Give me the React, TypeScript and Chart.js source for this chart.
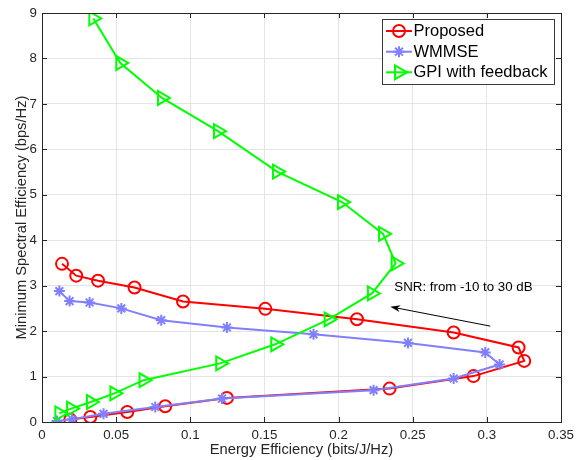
import React, { useEffect, useRef } from 'react';
import { Chart, registerables } from 'chart.js';
import { drawPoint } from 'chart.js/helpers';

Chart.register(...registerables);

const seriesNames = ['Proposed', 'WMMSE', 'GPI with feedback'];

// SNR from -10 dB to 30 dB (17 points), energy efficiency vs. minimum spectral efficiency
const proposedEE = [0.0191, 0.0326, 0.0575, 0.0831, 0.1247, 0.2344, 0.291, 0.3252, 0.3214, 0.2776, 0.2124, 0.1506, 0.0951, 0.0624, 0.0378, 0.0231, 0.0135];
const proposedSE = [0.053, 0.11, 0.22, 0.346, 0.53, 0.735, 1.01, 1.345, 1.64, 1.97, 2.26, 2.49, 2.65, 2.96, 3.11, 3.22, 3.48];

const wmmseEE = [0.0101, 0.0202, 0.0415, 0.0764, 0.1214, 0.2236, 0.2776, 0.3086, 0.2989, 0.2468, 0.1831, 0.1247, 0.0804, 0.0535, 0.0321, 0.0186, 0.0117];
const wmmseSE = [0.022, 0.06, 0.18, 0.33, 0.516, 0.7, 0.957, 1.265, 1.53, 1.74, 1.93, 2.08, 2.24, 2.5, 2.63, 2.66, 2.88];

const gpiEE = [0.0117, 0.0196, 0.033, 0.0488, 0.0685, 0.1202, 0.1573, 0.1933, 0.2225, 0.2385, 0.23, 0.2023, 0.1585, 0.1187, 0.0809, 0.0528, 0.0346];
const gpiSE = [0.19, 0.295, 0.44, 0.63, 0.92, 1.29, 1.71, 2.26, 2.83, 3.49, 4.14, 4.84, 5.51, 6.4, 7.13, 7.9, 8.88];

const xTicks = [0, 0.05, 0.1, 0.15, 0.2, 0.25, 0.3, 0.35];
const xTickLabels = ['0', '0.05', '0.1', '0.15', '0.2', '0.25', '0.3', '0.35'];
const yTicks = [0, 1, 2, 3, 4, 5, 6, 7, 8, 9];
const yTickLabels = ['0', '1', '2', '3', '4', '5', '6', '7', '8', '9'];

const xTitle = 'Energy Efficiency (bits/J/Hz)';
const yTitle = 'Minimum Spectral Efficiency (bps/Hz)';

const annotationText = 'SNR: from -10 to 30 dB';
const annotationTextAt = [0.2376, 2.88];
const arrowTail = [0.3023, 2.11];
const arrowHead = [0.2349, 2.536];

const FONT = "'Liberation Sans', Arial, Helvetica, sans-serif";
const AXIS_COLOR = '#262626';

const toPoints = (xs: number[], ys: number[]) => xs.map((x, i) => ({ x, y: ys[i] }));

const boxPlugin = {
  id: 'matlabBox',
  afterDatasetsDraw(chart: any) {
    const { ctx, chartArea } = chart;
    const { left, right, top, bottom } = chartArea;
    const xs = chart.scales.x;
    const ys = chart.scales.y;
    ctx.save();
    ctx.strokeStyle = AXIS_COLOR;
    ctx.lineWidth = 1;
    ctx.beginPath();
    ctx.rect(Math.round(left) + 0.5, Math.round(top) + 0.5, Math.round(right - left), Math.round(bottom - top));
    ctx.stroke();
    const tl = 5;
    ctx.beginPath();
    xTicks.forEach((v) => {
      const px = Math.round(xs.getPixelForValue(v)) + 0.5;
      ctx.moveTo(px, bottom);
      ctx.lineTo(px, bottom - tl);
      ctx.moveTo(px, top);
      ctx.lineTo(px, top + tl);
    });
    yTicks.forEach((v) => {
      const py = Math.round(ys.getPixelForValue(v)) + 0.5;
      ctx.moveTo(left, py);
      ctx.lineTo(left + tl, py);
      ctx.moveTo(right, py);
      ctx.lineTo(right - tl, py);
    });
    ctx.stroke();
    ctx.restore();
  },
};

const annotationPlugin = {
  id: 'snrAnnotation',
  afterDatasetsDraw(chart: any) {
    const { ctx } = chart;
    const xs = chart.scales.x;
    const ys = chart.scales.y;
    ctx.save();
    ctx.fillStyle = '#000';
    ctx.font = `13.3px ${FONT}`;
    ctx.textAlign = 'left';
    ctx.textBaseline = 'alphabetic';
    ctx.fillText(annotationText, xs.getPixelForValue(annotationTextAt[0]), ys.getPixelForValue(annotationTextAt[1]));

    const tx = xs.getPixelForValue(arrowTail[0]);
    const ty = ys.getPixelForValue(arrowTail[1]);
    const hx = xs.getPixelForValue(arrowHead[0]);
    const hy = ys.getPixelForValue(arrowHead[1]);
    const ang = Math.atan2(hy - ty, hx - tx);
    const len = 10;
    const wid = 3.5;
    const ux = Math.cos(ang);
    const uy = Math.sin(ang);
    ctx.strokeStyle = '#000';
    ctx.lineWidth = 1;
    ctx.beginPath();
    ctx.moveTo(tx, ty);
    ctx.lineTo(hx - ux * 6, hy - uy * 6);
    ctx.stroke();
    ctx.beginPath();
    ctx.moveTo(hx, hy);
    ctx.lineTo(hx - ux * len - uy * wid, hy - uy * len + ux * wid);
    ctx.lineTo(hx - ux * 7, hy - uy * 7);
    ctx.lineTo(hx - ux * len + uy * wid, hy - uy * len - ux * wid);
    ctx.closePath();
    ctx.fill();
    ctx.restore();
  },
};

const legendPlugin = {
  id: 'matlabLegend',
  afterDraw(chart: any) {
    const { ctx } = chart;
    const bx = 382.5;
    const by = 19.5;
    const bw = 172;
    const bh = 65;
    ctx.save();
    ctx.fillStyle = '#ffffff';
    ctx.fillRect(bx, by, bw, bh);
    ctx.strokeStyle = '#3a3a3a';
    ctx.lineWidth = 1;
    ctx.strokeRect(bx, by, bw, bh);
    const rows = [31, 51.7, 72.3];
    chart.data.datasets.forEach((ds: any, i: number) => {
      const y = rows[i];
      ctx.strokeStyle = ds.borderColor;
      ctx.lineWidth = ds.borderWidth;
      ctx.beginPath();
      ctx.moveTo(386, y);
      ctx.lineTo(412, y);
      ctx.stroke();
      ctx.fillStyle = 'rgba(0,0,0,0)';
      ctx.lineWidth = ds.pointBorderWidth;
      drawPoint(ctx, {
        pointStyle: ds.pointStyle,
        rotation: ds.pointRotation || 0,
        radius: ds.pointRadius,
        borderWidth: ds.pointBorderWidth,
      } as any, 399, y);
      ctx.fillStyle = '#000';
      ctx.font = `16.5px ${FONT}`;
      ctx.textAlign = 'left';
      ctx.textBaseline = 'middle';
      ctx.fillText(ds.label, 413.5, y + 0.5);
    });
    ctx.restore();
  },
};

export default function App() {
  const canvasRef = useRef<HTMLCanvasElement | null>(null);

  useEffect(() => {
    const canvas = canvasRef.current;
    if (!canvas) return;
    const chart = new Chart(canvas, {
      type: 'scatter',
      data: {
        datasets: [
          {
            label: seriesNames[0],
            data: toPoints(proposedEE, proposedSE),
            showLine: true,
            borderColor: '#ff0000',
            backgroundColor: 'rgba(0,0,0,0)',
            borderWidth: 2,
            pointStyle: 'circle',
            pointRadius: 6,
            pointBorderWidth: 2,
            pointBorderColor: '#ff0000',
            pointBackgroundColor: 'rgba(0,0,0,0)',
            order: 3,
          },
          {
            label: seriesNames[1],
            data: toPoints(wmmseEE, wmmseSE),
            showLine: true,
            borderColor: '#8080ff',
            backgroundColor: 'rgba(0,0,0,0)',
            borderWidth: 2,
            pointStyle: 'star',
            pointRadius: 5.5,
            pointBorderWidth: 2,
            pointBorderColor: '#8080ff',
            pointBackgroundColor: 'rgba(0,0,0,0)',
            order: 2,
          },
          {
            label: seriesNames[2],
            data: toPoints(gpiEE, gpiSE),
            showLine: true,
            borderColor: '#00ff00',
            backgroundColor: 'rgba(0,0,0,0)',
            borderWidth: 2,
            pointStyle: 'triangle',
            pointRotation: 90,
            pointRadius: 8,
            pointBorderWidth: 2,
            pointBorderColor: '#00ff00',
            pointBackgroundColor: 'rgba(0,0,0,0)',
            order: 1,
          },
        ] as any,
      },
      options: {
        responsive: false,
        animation: false,
        devicePixelRatio: 1,
        layout: { padding: { left: 0, right: 18, top: 13, bottom: 0 } },
        plugins: {
          legend: { display: false },
          tooltip: { enabled: false },
        },
        elements: { line: { tension: 0 } },
        scales: {
          x: {
            type: 'linear',
            min: 0,
            max: 0.35,
            afterFit: (s: any) => { s.height = 38; },
            afterBuildTicks: (s: any) => { s.ticks = xTicks.map((v) => ({ value: v })); },
            ticks: {
              color: AXIS_COLOR,
              font: { family: FONT, size: 13.3 },
              padding: 5,
              maxRotation: 0,
              autoSkip: false,
              callback: (_v: any, i: number) => xTickLabels[i],
            },
            grid: { color: '#e4e4e4', lineWidth: 1, drawTicks: false },
            border: { display: true, color: AXIS_COLOR },
            title: {
              display: true,
              text: xTitle,
              color: AXIS_COLOR,
              font: { family: FONT, size: 14.7 },
              padding: { top: 0, bottom: 1.5 },
            },
          },
          y: {
            type: 'linear',
            min: 0,
            max: 9,
            afterFit: (s: any) => { s.width = 42; },
            afterBuildTicks: (s: any) => { s.ticks = yTicks.map((v) => ({ value: v })); },
            ticks: {
              color: AXIS_COLOR,
              font: { family: FONT, size: 13.3 },
              padding: 5,
              autoSkip: false,
              callback: (_v: any, i: number) => yTickLabels[i],
            },
            grid: { color: '#e4e4e4', lineWidth: 1, drawTicks: false },
            border: { display: true, color: AXIS_COLOR },
            title: {
              display: true,
              text: yTitle,
              color: AXIS_COLOR,
              font: { family: FONT, size: 14.7 },
              padding: { top: 13, bottom: 0 },
            },
          },
        },
      } as any,
      plugins: [boxPlugin, annotationPlugin, legendPlugin],
    });
    return () => chart.destroy();
  }, []);

  return (
    <div style={{ position: 'absolute', left: 0, top: 0, width: 579, height: 460, background: '#fff' }}>
      <canvas ref={canvasRef} width={579} height={460} style={{ display: 'block' }} />
    </div>
  );
}
